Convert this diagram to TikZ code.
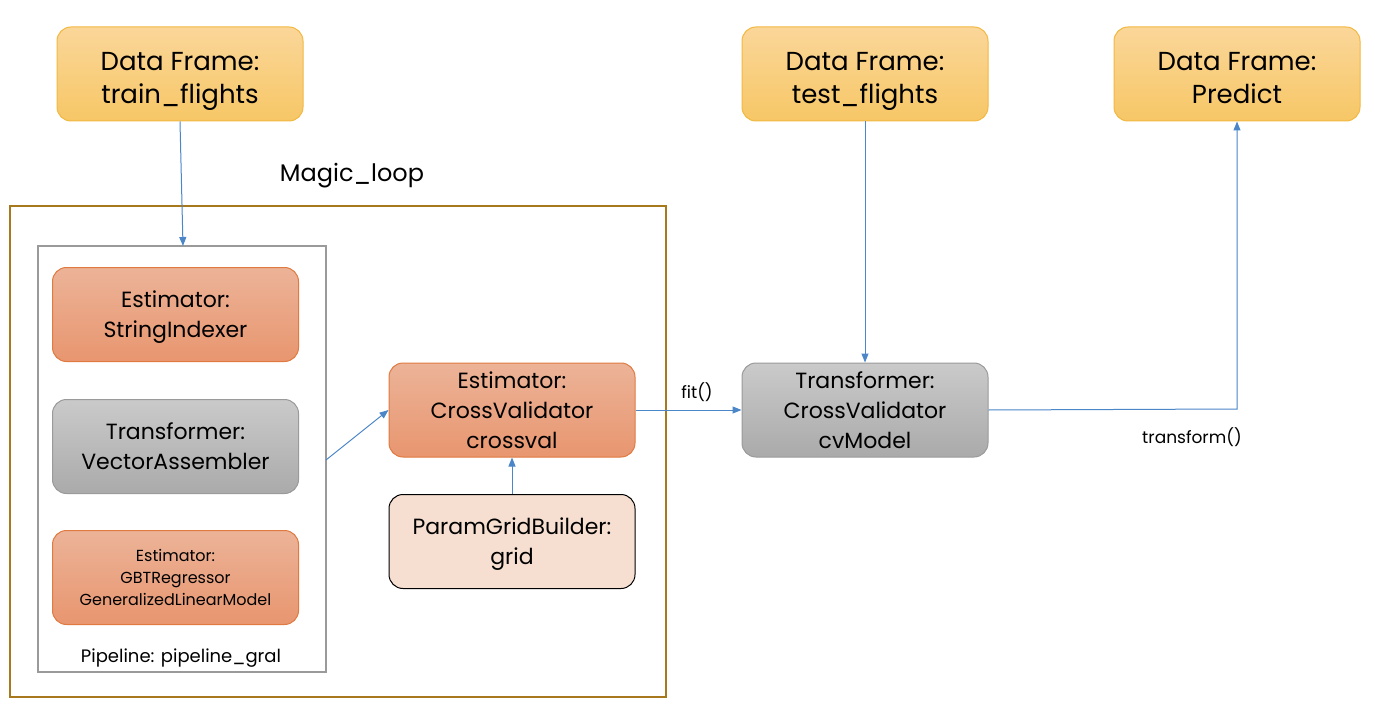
\documentclass[tikz,border=0pt]{standalone}
\usepackage{fontspec}
\setmainfont{Poppins}
\usetikzlibrary{arrows.meta}
\definecolor{arrowc}{HTML}{4A86C8}
\definecolor{ybord}{HTML}{F2B840}
\definecolor{ytop}{HTML}{FAD699}
\definecolor{ybot}{HTML}{F7C766}
\definecolor{obord}{HTML}{E07A40}
\definecolor{otop}{HTML}{ECB398}
\definecolor{obot}{HTML}{E8966F}
\definecolor{gbord}{HTML}{9A9A9A}
\definecolor{gtop}{HTML}{CACACA}
\definecolor{gbot}{HTML}{AAAAAA}
\definecolor{peach}{HTML}{F6DFD0}
\definecolor{magicc}{HTML}{A8781C}
\newcommand{\toppad}{\rule{0pt}{26pt}}
\tikzset{
  box/.style={rounded corners=14pt, minimum width=246pt, minimum height=94pt, align=center, inner sep=0pt, line width=1pt, text depth=0pt},
  yellowbox/.style={box, draw=ybord, top color=ytop, bottom color=ybot, font=\fontsize{26}{33}\selectfont},
  orangebox/.style={box, draw=obord, top color=otop, bottom color=obot, font=\fontsize{22}{30}\selectfont},
  graybox/.style={box, draw=gbord, top color=gtop, bottom color=gbot, font=\fontsize{22}{30}\selectfont},
  peachbox/.style={box, draw=black, fill=peach, font=\fontsize{22}{30}\selectfont},
  conn/.style={draw=arrowc, line width=1pt, -{Triangle[length=9pt,width=7pt]}},
  lbl/.style={font=\fontsize{17}{20}\selectfont, inner sep=0pt},
}
\begin{document}
\begin{tikzpicture}[x=1pt,y=-1pt]
\useasboundingbox (0,0) rectangle (1375,719);
% containers
\node[draw=magicc, line width=2pt, minimum width=656pt, minimum height=491pt, inner sep=0pt] (magic) at (338,451.5) {};
\node[font=\fontsize{24}{28}\selectfont] (magiclbl) at (352,176) {Magic\_loop};
\node[draw=gbord, line width=2pt, minimum width=288pt, minimum height=426pt, inner sep=0pt] (pipe) at (182,459) {};
\node[lbl, font=\fontsize{18}{22}\selectfont] (pipelbl) at (181,658) {Pipeline: pipeline\_gral};
% data frames
\node[yellowbox] (train) at (180,74) {\toppad Data Frame:\\train\_flights};
\node[yellowbox] (test) at (865,74) {\toppad Data Frame:\\test\_flights};
\node[yellowbox] (pred) at (1237,74) {\toppad Data Frame:\\Predict};
% pipeline stages
\node[orangebox] (si) at (175.5,314.5) {Estimator:\\StringIndexer};
\node[graybox] (va) at (175.5,446.5) {Transformer:\\VectorAssembler};
\node[orangebox, font=\fontsize{16}{22}\selectfont] (gbt) at (175.5,577.5) {Estimator:\\GBTRegressor\\GeneralizedLinearModel};
% cross validation
\node[orangebox] (cv) at (512,410) {Estimator:\\CrossValidator\\crossval};
\node[peachbox] (grid) at (512,541.5) {ParamGridBuilder:\\grid};
\node[graybox] (cvm) at (865,410) {Transformer:\\CrossValidator\\cvModel};
% connectors
\coordinate (pipein) at (183,246);
\coordinate (pipeout) at (326,460);
\coordinate (corner) at (1237,409);
\draw[conn] (train.south) -- (pipein);
\draw[conn] (pipeout) -- (cv.west);
\draw[conn] (grid.north) -- (cv.south);
\draw[conn] (cv.east) -- node[lbl, above=8pt, pos=0.58] (fitlbl) {fit()} (cvm.west);
\draw[conn] (test.south) -- (cvm.north);
\draw[conn] (cvm.east) -- (corner) -- (pred.south);
\node[lbl] (trlbl) at (1192,437) {transform()};
\end{tikzpicture}
\end{document}
